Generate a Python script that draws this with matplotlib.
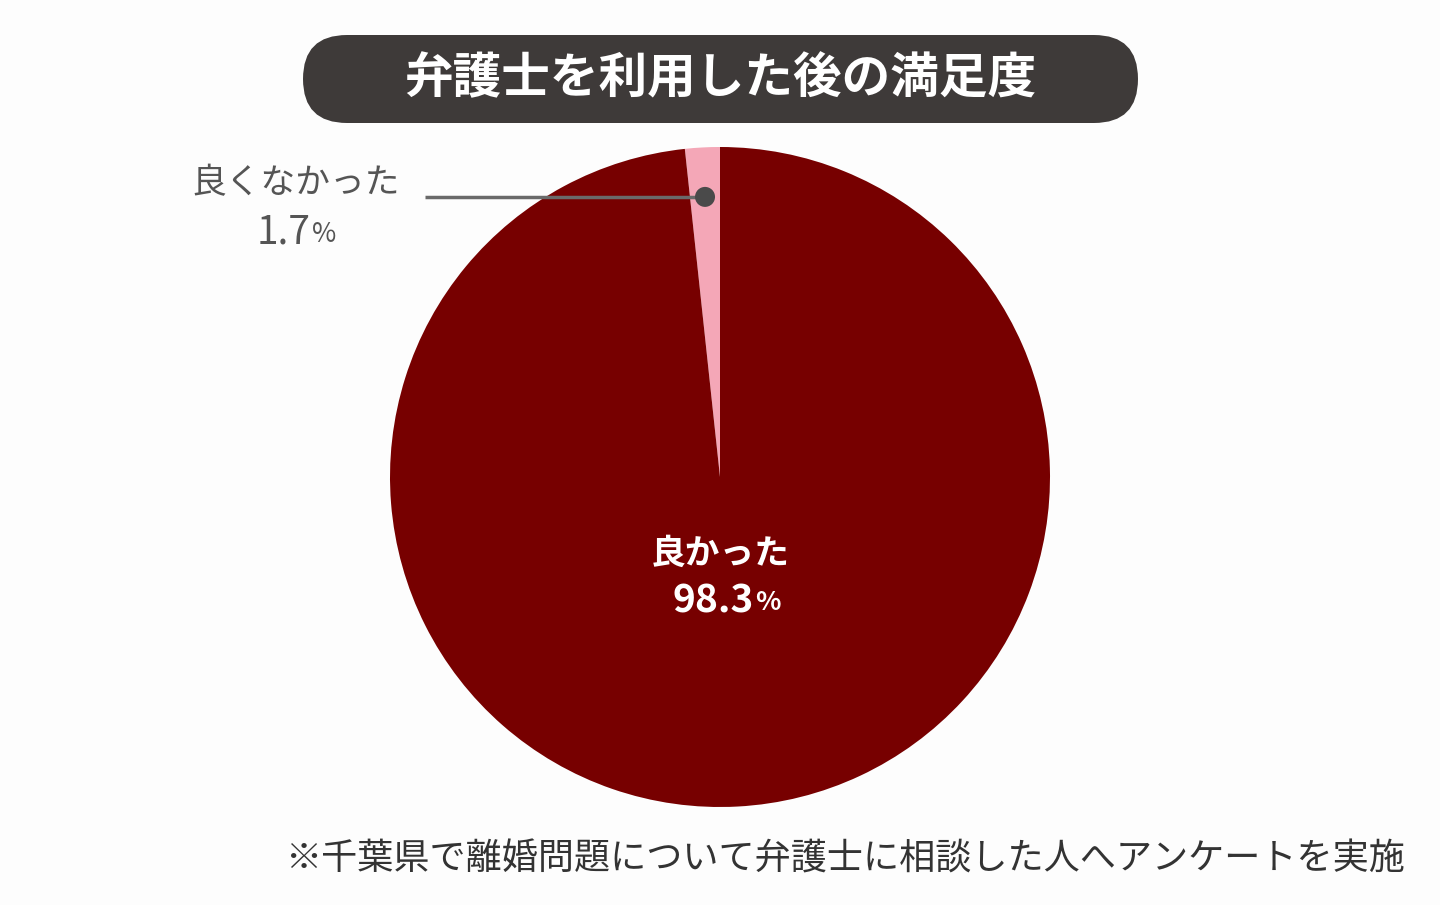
import matplotlib
matplotlib.use("Agg")
import matplotlib.pyplot as plt
from matplotlib.patches import FancyBboxPatch, Circle
import numpy as np

plt.rcParams['font.family'] = ['Noto Sans CJK JP', 'DejaVu Sans']

title = "弁護士を利用した後の満足度"
categories = ["良くなかった", "良かった"]
values = [1.7, 98.3]
footnote = "※千葉県で離婚問題について弁護士に相談した人へアンケートを実施"

W, H = 1440, 905
fig = plt.figure(figsize=(W / 100, H / 100), dpi=100, facecolor="#fdfdfd")
ax = fig.add_axes([0, 0, 1, 1])
ax.set_xlim(0, W)
ax.set_ylim(0, H)
ax.set_aspect("equal")
ax.axis("off")

def Y(y):
    return H - y

# title pill
pill = FancyBboxPatch((303, Y(123)), 835, 88,
                      boxstyle="round,pad=0,rounding_size=44",
                      fc="#3e3a39", ec="none", zorder=2)
ax.add_patch(pill)
ax.text(720, Y(79), title, color="white", fontsize=35, fontweight="bold",
        ha="center", va="center", zorder=3)

# pie
cx, cy, R = 720, Y(477), 330
colors = ["#f4a7b7", "#770000"]
wedges, _ = ax.pie(values, colors=colors, startangle=90, counterclock=True,
                   center=(cx, cy), radius=R, frame=True,
                   wedgeprops=dict(linewidth=0))
ax.set_xlim(0, W)
ax.set_ylim(0, H)
ax.axis("off")

# label for small slice
mid = np.deg2rad(90 + values[0] * 3.6 / 2)
dx, dy = cx + 0.85 * R * np.cos(mid), cy + 0.85 * R * np.sin(mid)
ax.plot([425, dx], [dy, dy], color="#6a6a6a", lw=2.5, zorder=4, solid_capstyle="butt")
ax.add_patch(Circle((dx, dy), 10, fc="#4a4a4a", ec="none", zorder=5))
ax.text(296, Y(184), categories[0], color="#555555", fontsize=25,
        ha="center", va="center", zorder=5)
ax.text(311, Y(232), f"{values[0]}", color="#555555", fontsize=28,
        ha="right", va="center", zorder=5)
ax.text(312, Y(234), "%", color="#555555", fontsize=19,
        ha="left", va="center", zorder=5)

# label for big slice
ax.text(720, Y(553), categories[1], color="white", fontsize=25, fontweight="bold",
        ha="center", va="center", zorder=5)
ax.text(754, Y(601), f"{values[1]}", color="white", fontsize=28, fontweight="bold",
        ha="right", va="center", zorder=5)
ax.text(755, Y(603), "%", color="white", fontsize=19, fontweight="bold",
        ha="left", va="center", zorder=5)

# footnote
ax.text(1405, Y(860), footnote, color="#333333", fontsize=26,
        ha="right", va="center", zorder=5)

fig.savefig("out.png", dpi=100, facecolor=fig.get_facecolor())
